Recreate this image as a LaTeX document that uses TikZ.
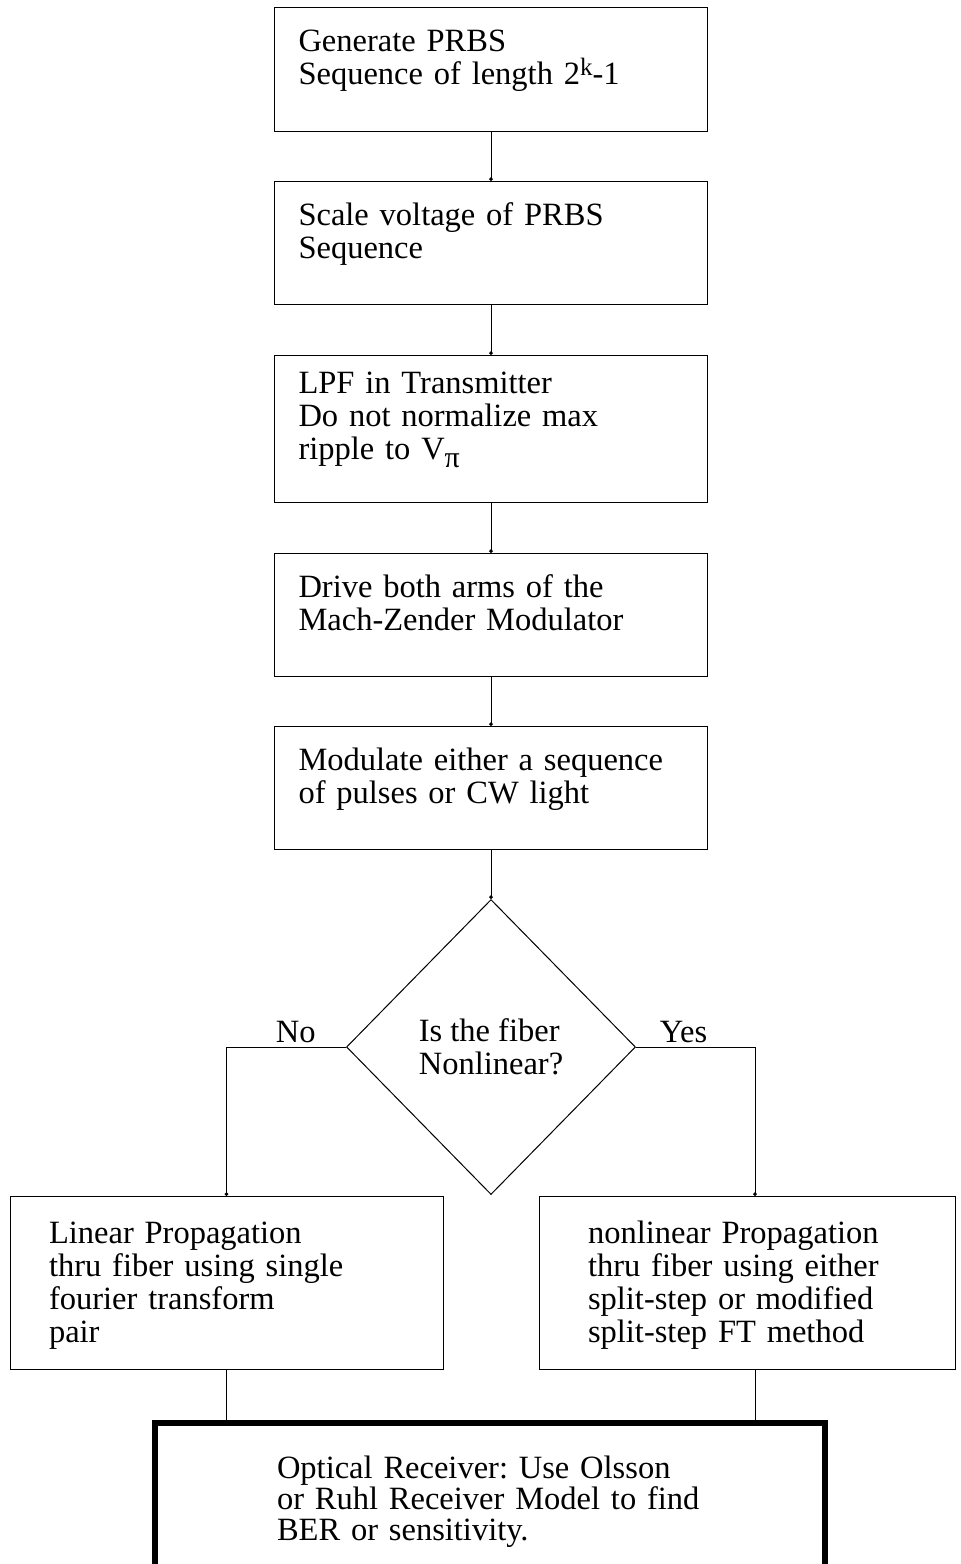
\documentclass[tikz,border=0pt]{standalone}
\usepackage{fontspec}
\setmainfont{Liberation Serif}
\usetikzlibrary{shapes.geometric,arrows.meta}
\frenchspacing

\tikzset{
  flowtext/.style={font=\fontsize{16.25pt}{16.5pt}\selectfont},
  stepbox/.style={draw, line width=0.5pt, flowtext, anchor=north, align=left,
    text width=192.5pt, inner xsep=12pt, inner ysep=10.5pt,
    text height=11.5pt, text depth=#1},
  stepbox/.default=29pt,
  forkbox/.style={draw, line width=0.5pt, flowtext, anchor=north, align=left,
    inner ysep=12pt, text height=11.5pt, text depth=51pt},
  rxbox/.style={draw, line width=3pt, anchor=north, align=left,
    font=\fontsize{16.25pt}{15.5pt}\selectfont,
    text width=213pt, inner xsep=61pt, inner ysep=16pt,
    text height=11.5pt, text depth=29.5pt},
  decision/.style={diamond, draw, line width=0.5pt, flowtext, align=left,
    minimum width=144.5pt, minimum height=147.5pt, inner sep=0pt},
  link/.style={line width=0.5pt, -{Circle[length=1.8pt]}},
  answer/.style={flowtext, above, inner sep=2pt}
}
\newcommand{\supk}{\raisebox{4.5pt}{\fontsize{12.5pt}{12.5pt}\selectfont k}}
\newcommand{\subpi}{\raisebox{-4pt}{\fontsize{15pt}{15pt}\selectfont π}}

\begin{document}
\begin{tikzpicture}[x=0.5pt, y=-0.5pt]
  \useasboundingbox (0,0) rectangle (960,1564);
  % steps
  \node[stepbox=29.5pt] (gen) at (491,7) {Generate PRBS\\Sequence of length 2\supk-1};
  \node[stepbox] (scl) at (491,181) {Scale voltage of PRBS\\Sequence};
  \node[stepbox=47pt, inner ysep=7.5pt] (lpf) at (491,355) {LPF in Transmitter\\Do not normalize max\\ripple to V\subpi};
  \node[stepbox] (drv) at (491,553) {Drive both arms of the\\Mach-Zender Modulator};
  \node[stepbox] (mdl) at (491,726) {Modulate either a sequence\\of pulses or CW light};
  % decision
  \node[decision] (fbr) at (491,1047) {Is the fiber\\Nonlinear?};
  \node[forkbox, text width=177.5pt, inner xsep=19.5pt] (lin) at (226.5,1196)
    {Linear Propagation\\thru fiber using single\\fourier transform\\pair};
  \node[forkbox, text width=159pt, inner xsep=24.5pt] (nlp) at (747,1196)
    {nonlinear Propagation\\thru fiber using either\\split-step or modified\\split-step FT method};
  % receiver
  \node[rxbox] (rcv) at (490,1420)
    {Optical Receiver: Use Olsson\\or Ruhl Receiver Model to find\\BER or sensitivity.};
  % links
  \draw[link] (gen.south) -- (scl.north);
  \draw[link] (scl.south) -- (lpf.north);
  \draw[link] (lpf.south) -- (drv.north);
  \draw[link] (drv.south) -- (mdl.north);
  \draw[link] (mdl.south) -- (fbr.north);
  \draw[link] (fbr.west) -| node[answer, pos=0.21] {No} (lin.north);
  \draw[link] (fbr.east) -| node[answer, pos=0.2] {Yes} ([xshift=4pt]nlp.north);
  \draw[line width=0.5pt] (lin.south) -- (lin.south |- rcv.north);
  \draw[line width=0.5pt] ([xshift=4pt]nlp.south) -- ([xshift=4pt]nlp.south |- rcv.north);
\end{tikzpicture}
\end{document}
